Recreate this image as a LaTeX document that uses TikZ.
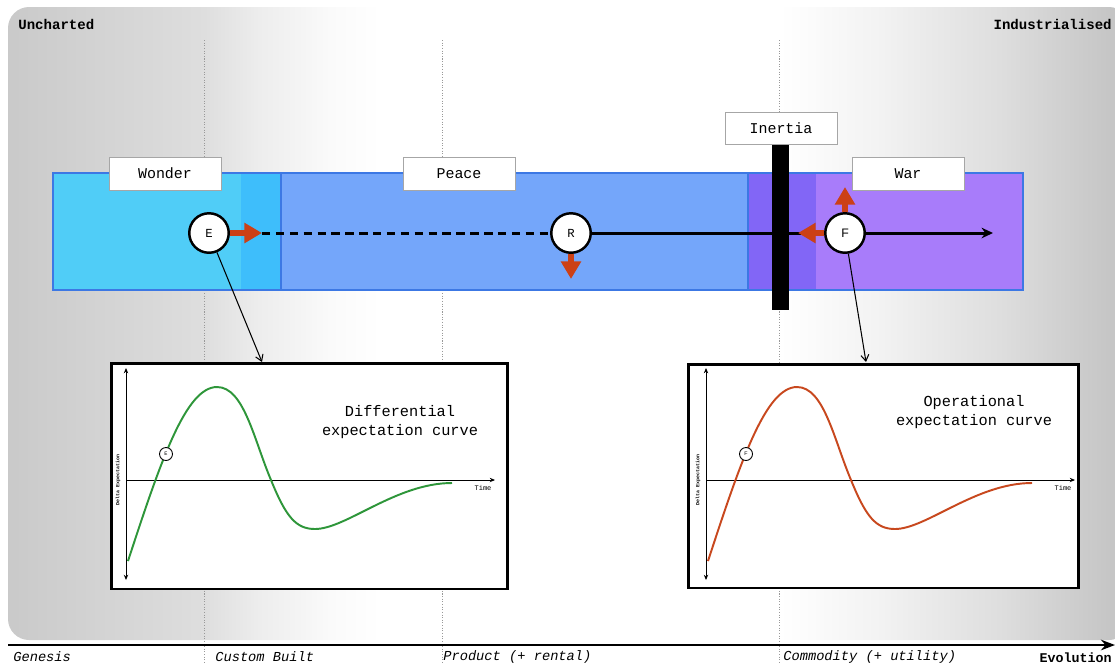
\documentclass[tikz,border=0pt]{standalone}
\usepackage{fontspec}
\setmainfont{Liberation Mono}
\setsansfont{Liberation Sans}
\usepackage{tikz}
\usetikzlibrary{positioning, arrows.meta, calc}

\definecolor{wondercol}{RGB}{80,205,247}
\definecolor{wpcol}{RGB}{62,190,251}
\definecolor{peacecol}{RGB}{116,166,250}
\definecolor{pwcol}{RGB}{130,102,246}
\definecolor{warcol}{RGB}{168,124,250}
\definecolor{bandedge}{RGB}{60,120,228}
\definecolor{pushred}{RGB}{204,64,22}
\definecolor{diffgreen}{RGB}{46,150,58}
\definecolor{opred}{RGB}{200,72,30}
\definecolor{shadeA}{gray}{0.79}
\definecolor{shadeB}{gray}{0.87}
\definecolor{shadeC}{gray}{0.93}
\definecolor{shadeD}{gray}{0.98}
\definecolor{shadeE}{gray}{0.95}
\definecolor{shadeF}{gray}{0.87}
\definecolor{shadeG}{gray}{0.77}

\pgfdeclarehorizontalshading{evoshade}{100bp}{color(0bp)=(shadeA); color(25bp)=(shadeA);
  color(33.73bp)=(shadeB); color(36.23bp)=(shadeC); color(39.35bp)=(shadeD);
  color(41.58bp)=(white); color(59.4bp)=(white); color(63.86bp)=(shadeE);
  color(69.2bp)=(shadeF); color(74.33bp)=(shadeG); color(100bp)=(shadeG)}

\begin{document}
\begin{tikzpicture}[x=0.02cm, y=-0.02cm]

  % 定义样式
  \tikzset{
    tag/.style={draw=gray!70, fill=white, line width=0.5pt,
      minimum width=2.24cm, minimum height=0.66cm, inner sep=0pt,
      font=\fontsize{8.5}{10}\selectfont},
    stage/.style={circle, draw, fill=white, line width=1.4pt,
      minimum size=0.79cm, inner sep=0pt, font=\fontsize{7}{8}\selectfont},
    push/.style={pushred, line width=3.5pt, -{Triangle[length=10pt,width=11pt]}},
    lane/.style={line width=1.7pt},
    link/.style={line width=0.6pt, -{Straight Barb[length=3.5pt,width=4.5pt]}},
    chart/.style={draw, fill=white, line width=1.7pt, inner sep=0pt},
    guide/.style={gray!80, line width=0.5pt, dash pattern=on 0.6pt off 0.9pt},
    bandline/.style={bandedge, line width=1.1pt},
    corner/.style={font=\fontsize{8}{9}\selectfont\bfseries, inner sep=0pt},
    phase/.style={font=\fontsize{7.8}{9}\selectfont\itshape, inner sep=0pt, anchor=west},
    axisline/.style={line width=0.5pt},
    tiny/.style={font=\fontsize{4}{5}\selectfont, inner sep=0pt},
    dot/.style={circle, draw, fill=white, line width=0.5pt, minimum size=0.26cm,
      inner sep=0pt, font=\fontsize{3}{3}\selectfont},
    charttext/.style={align=center, font=\fontsize{8.7}{10.8}\selectfont}
  }

  % 参数设置
  \def \laneY {233}
  \def \bandTop {173}
  \def \bandBot {290}

  \useasboundingbox (0,0) rectangle (1115,664);
  \clip (0,0) rectangle (1115,664);

  % 背景
  \shade[shading=evoshade, rounded corners=12] (8,7) rectangle (1130,640);

  % 虚线
  \foreach \gx in {204,442,779} {
    \draw[guide] (\gx,40) -- (\gx,664);
  }

  % 演化轴
  \coordinate (axisL) at (8,645);
  \coordinate (axisR) at (1115,645);
  \draw[line width=1.6pt, -{Stealth[length=8pt,width=6pt]}] (axisL) -- (axisR);

  \node[corner, anchor=west] (uncharted) at (18,24) {Uncharted};
  \node[corner, anchor=east] (industrialised) at (1112,24) {Industrialised};
  \node[phase] (genesis) at (13,657) {Genesis};
  \node[phase] (custom) at (215,657) {Custom Built};
  \node[phase] (product) at (443,657) {Product (+ rental)};
  \node[phase] (commodity) at (783,657) {Commodity (+ utility)};
  \node[corner, anchor=east, font=\fontsize{7.6}{9}\selectfont\bfseries] (evolution) at (1112,658) {Evolution};

  % 色带
  \fill[peacecol] (241,\bandTop) rectangle (816,\bandBot);
  \draw[bandline] (241,\bandTop) rectangle (816,\bandBot);
  \fill[wondercol] (53,\bandTop) rectangle (281,\bandBot);
  \fill[wpcol] (241,\bandTop) rectangle (281,\bandBot);
  \draw[bandline] (53,\bandTop) rectangle (281,\bandBot);
  \fill[warcol] (748,\bandTop) rectangle (1023,\bandBot);
  \fill[pwcol] (748,\bandTop) rectangle (816,\bandBot);
  \draw[bandline] (748,\bandTop) rectangle (1023,\bandBot);

  \node[tag] (wonder) at (165,173.5) {Wonder};
  \node[tag] (peace) at (459,173.5) {Peace};
  \node[tag] (war) at (908,173.5) {War};

  % 节点
  \node[stage] (E) at (209,\laneY) {E};
  \node[stage] (R) at (571,\laneY) {R};
  \node[stage] (F) at (845,\laneY) {\sffamily F};

  \coordinate (etip) at (262,\laneY);
  \coordinate (rtip) at (571,279);
  \coordinate (fleft) at (798,\laneY);
  \coordinate (fup) at (845,187);
  \coordinate (fend) at (993,\laneY);

  \draw[lane, dash pattern=on 4.8pt off 3.1pt] (etip) -- (R);
  \draw[lane] (R) -- (F);
  \draw[lane, -{Stealth[length=6.5pt,width=6pt]}] (F) -- (fend);
  \draw[push] (E) -- (etip);
  \draw[push] (R) -- (rtip);
  \draw[push] (F) -- (fleft);
  \draw[push] (F) -- (fup);

  % 惯性
  \fill (772,144) rectangle (789,310);
  \node[tag, minimum height=0.64cm] (inertia) at (781,128) {Inertia};

  % 曲线图
  \node[chart, minimum width=7.94cm, minimum height=4.52cm] (diffbox) at (309.5,476) {};
  \node[chart, minimum width=7.82cm, minimum height=4.48cm] (opbox) at (883.5,476) {};

  \coordinate (ein) at (262,362);
  \coordinate (fin) at (866,362);
  \draw[link] (E) -- (ein);
  \draw[link] (F) -- (fin);

  \foreach \ox/\crv/\tg/\fnt in {126/diffgreen/E/\rmfamily, 706/opred/F/\sffamily} {
    \begin{scope}[shift={(\ox,480)}]
      \draw[axisline, {Stealth[length=3pt,width=2.5pt]}-{Stealth[length=3pt,width=2.5pt]}] (0,-112) -- (0,100);
      \draw[axisline, -{Stealth[length=3pt,width=2.5pt]}] (0,0) -- (369,0);
      \node[tiny] at (357,8) {Time};
      \node[tiny, rotate=90, font=\fontsize{2.8}{3}\selectfont\bfseries] at (-8,0) {Delta Expectation};
      \draw[\crv, line width=1.1pt] (2,81) .. controls (35,-20) and (60,-93) .. (91,-93)
        .. controls (118,-93) and (128,-40) .. (145,0)
        .. controls (160,37) and (170,49) .. (189,49)
        .. controls (220,49) and (270,3) .. (326,3);
      \node[dot] at (40,-26) {\fnt\tg};
    \end{scope}
  }

  \node[charttext] (difftext) at (400,422.5) {Differential\\expectation curve};
  \node[charttext] (optext) at (974,412.5) {Operational\\expectation curve};

\end{tikzpicture}
\end{document}
